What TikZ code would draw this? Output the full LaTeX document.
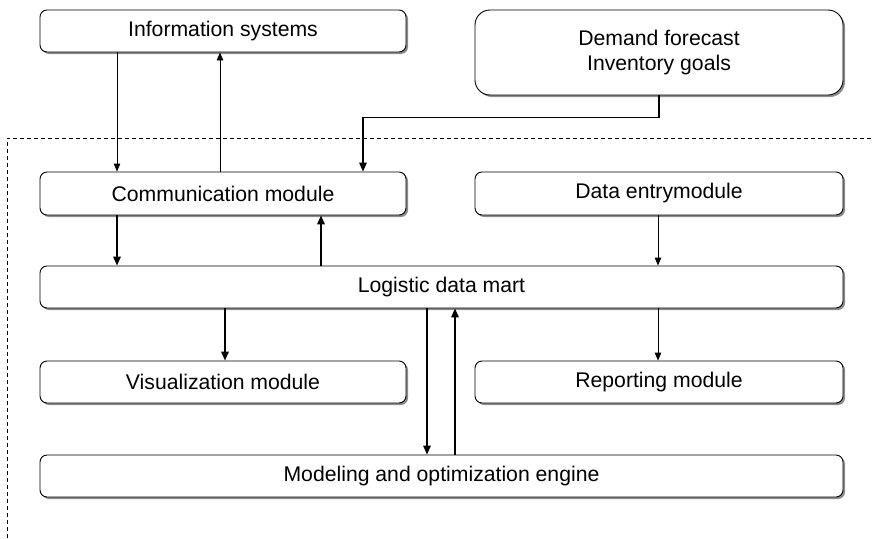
\documentclass[tikz,border=0pt]{standalone}
\usepackage{fontspec}
\setmainfont{Liberation Sans}
\usetikzlibrary{arrows.meta,shadows}
\begin{document}
\begin{tikzpicture}[x=1pt,y=-1pt,
  box/.style={draw, line width=0.9pt, rounded corners=7pt, fill=white, inner sep=0pt,
    drop shadow={shadow xshift=2pt, shadow yshift=-2pt, fill=black!45, opacity=1},
    font=\fontsize{21.2}{25}\selectfont, align=center},
  thinarrow/.style={line width=0.9pt, -{Triangle[length=8pt,width=6.5pt]}},
  thickarrow/.style={line width=1.8pt, -{Triangle[length=9pt,width=7.5pt]}},
  border/.style={dashed, dash pattern=on 4pt off 3pt, line width=0.7pt}
]
\useasboundingbox (0,0) rectangle (872,538);
% boundary
\coordinate (bl) at (7,538);
\coordinate (tc) at (7,138);
\coordinate (tr) at (872,138);
\draw[border] (bl) -- (tc) -- (tr);
% boxes
\node[box, minimum width=366pt, minimum height=42pt] (info) at (223,31) {Information systems};
\node[box, rounded corners=15pt, minimum width=368pt, minimum height=85pt] (demand) at (659,52.5) {Demand forecast\\Inventory goals};
\node[box, minimum width=366pt, minimum height=43pt] (comm) at (223,193.5) {Communication module};
\node[box, minimum width=368pt, minimum height=43pt] (data) at (659,193.5) {Data entrymodule};
\node[box, minimum width=803pt, minimum height=42pt] (ldm) at (441.5,287) {Logistic data mart};
\node[box, minimum width=366pt, minimum height=42pt] (vis) at (223,382) {Visualization module};
\node[box, minimum width=368pt, minimum height=42pt] (rep) at (659,382) {Reporting module};
\node[box, minimum width=803pt, minimum height=42pt] (model) at (441.5,476) {Modeling and optimization engine};
% connectors
\draw[thinarrow] (info.south -| 117,0) -- (comm.north -| 117,0);
\draw[thinarrow] (comm.north -| 220,0) -- (info.south -| 220,0);
\draw[thickarrow, line width=1.5pt] (demand.south) -- ++(0,22) -| (comm.north -| 363,0);
\draw[thickarrow] (comm.south -| 117,0) -- (ldm.north -| 117,0);
\draw[thickarrow] (ldm.north -| 321,0) -- (comm.south -| 321,0);
\draw[thinarrow] (data.south -| 658,0) -- (ldm.north -| 658,0);
\draw[thickarrow] (ldm.south -| 225,0) -- (vis.north -| 225,0);
\draw[thinarrow] (ldm.south -| 658,0) -- (rep.north -| 658,0);
\draw[thickarrow] (ldm.south -| 427,0) -- (model.north -| 427,0);
\draw[thickarrow] (model.north -| 455,0) -- (ldm.south -| 455,0);
\end{tikzpicture}
\end{document}
